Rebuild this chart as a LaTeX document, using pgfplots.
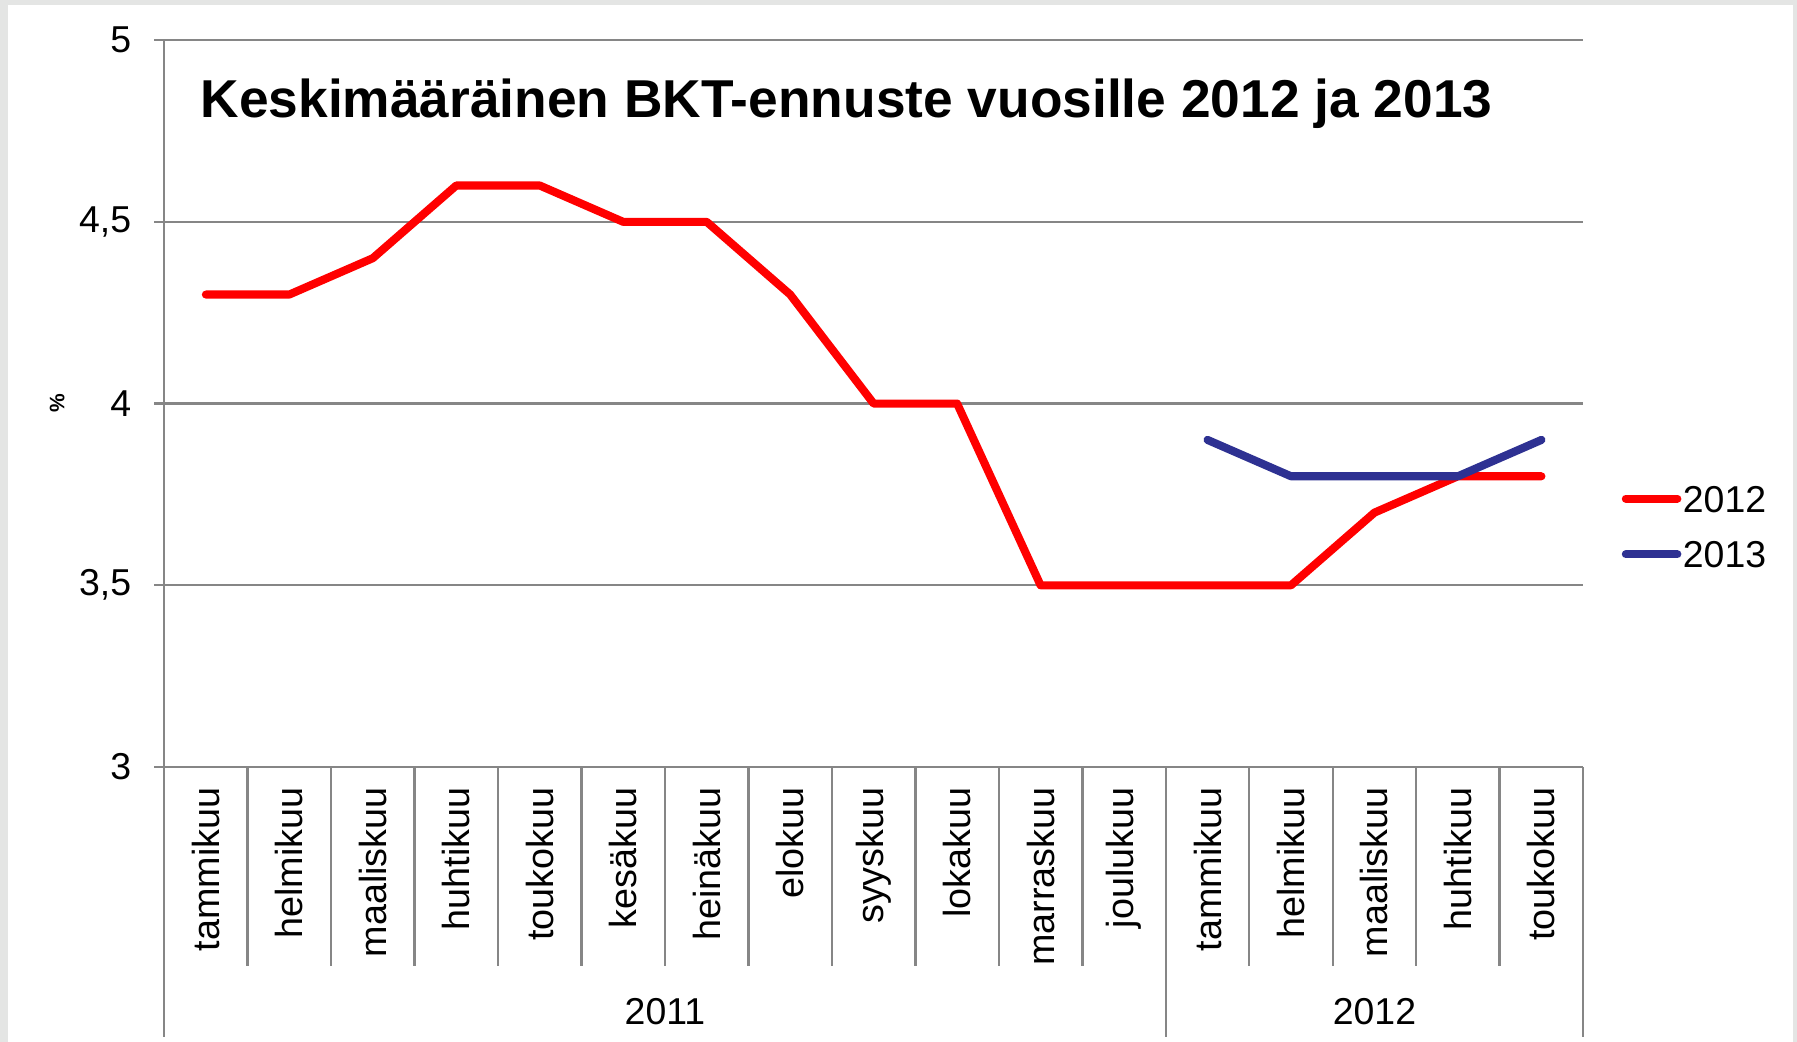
\documentclass[border=0pt]{standalone}
\usepackage{pgfplots}
\pgfplotsset{compat=1.18}
\usepackage{fontspec}
\setmainfont{Liberation Sans}
\definecolor{gridgray}{RGB}{134,134,134}
\definecolor{bggray}{RGB}{228,229,228}
\definecolor{ser12}{RGB}{255,0,0}
\definecolor{ser13}{RGB}{46,49,146}
\begin{document}
\begin{tikzpicture}
\fill[bggray] (0,0) rectangle (600pt,347.9pt);
\fill[white] (2.7pt,0) rectangle (598.7pt,346.2pt);
\useasboundingbox (0,0) rectangle (600pt,347.9pt);
\begin{axis}[
  at={(54.8pt,91.8pt)}, anchor=south west,
  scale only axis, width=473.8pt, height=242.7pt,
  xmin=-0.5, xmax=16.5, ymin=3, ymax=5,
  axis lines*=left,
  axis line style={gridgray, line width=0.8pt, -},
  clip=false,
  xtick={0,...,16},
  xticklabels={tammikuu,helmikuu,maaliskuu,huhtikuu,toukokuu,kesäkuu,heinäkuu,elokuu,syyskuu,lokakuu,marraskuu,joulukuu,tammikuu,helmikuu,maaliskuu,huhtikuu,toukokuu},
  x tick style={draw=none},
  xticklabel style={rotate=90, anchor=east, font=\fontsize{12.6}{14}\selectfont},
  ytick={3,3.5,4,4.5,5},
  y tick style={gridgray, line width=0.8pt},
  tick align=outside,
  major tick length=3.3pt,
  ymajorgrids,
  major grid style={gridgray, line width=0.8pt},
  yticklabel style={font=\fontsize{12.5}{14}\selectfont, xshift=-4.2pt, /pgf/number format/.cd, use comma, fixed},
  /pgf/number format/assume math mode=true,
  legend style={draw=none, fill=none, at={(axis description cs:1.0268,0.331)}, anchor=west, inner sep=0pt, font=\fontsize{12.5}{14}\selectfont, row sep=8.6pt, nodes={inner sep=0.5pt, text height=9pt, text depth=0pt}},
  legend cell align=left,
  legend image code/.code={\draw[#1, line cap=round] (0pt,0pt) -- (17.2pt,0pt);},
]
\addplot[ser12, line width=2.7pt, line join=round, line cap=round] coordinates {
(0,4.3) (1,4.3) (2,4.4) (3,4.6) (4,4.6) (5,4.5) (6,4.5) (7,4.3) (8,4.0) (9,4.0) (10,3.5) (11,3.5) (12,3.5) (13,3.5) (14,3.7) (15,3.8) (16,3.8)};
\addlegendentry{2012}
\addplot[ser13, line width=2.7pt, line join=round, line cap=round] coordinates {
(12,3.9) (13,3.8) (14,3.8) (15,3.8) (16,3.9)};
\addlegendentry{2013}
\pgfplotsinvokeforeach{0.5,1.5,2.5,3.5,4.5,5.5,6.5,7.5,8.5,9.5,10.5,12.5,13.5,14.5,15.5}{
  \draw[gridgray, line width=0.8pt] (axis cs:#1,3) -- ++(0pt,-66.4pt);
}
\draw[gridgray, line width=0.8pt] (axis cs:-0.5,3) -- ++(0pt,-90.2pt);
\draw[gridgray, line width=0.8pt] (axis cs:11.5,3) -- ++(0pt,-90.2pt);
\draw[gridgray, line width=0.8pt] (axis cs:16.5,3) -- ++(0pt,-90.2pt);
\node[font=\fontsize{12.5}{14}\selectfont] at ([yshift=-81.7pt]axis cs:5.5,3) {2011};
\node[font=\fontsize{12.5}{14}\selectfont] at ([yshift=-81.7pt]axis cs:14,3) {2012};
\node[rotate=90, font=\bfseries\fontsize{7}{8}\selectfont] at ([xshift=-35.7pt]axis description cs:0,0.5) {\%};
\node[anchor=west, inner sep=0pt, font=\bfseries\fontsize{17.8}{20}\selectfont] at (axis description cs:0.0253,0.912) {Keskimääräinen BKT-ennuste vuosille 2012 ja 2013};
\end{axis}
\end{tikzpicture}
\end{document}
